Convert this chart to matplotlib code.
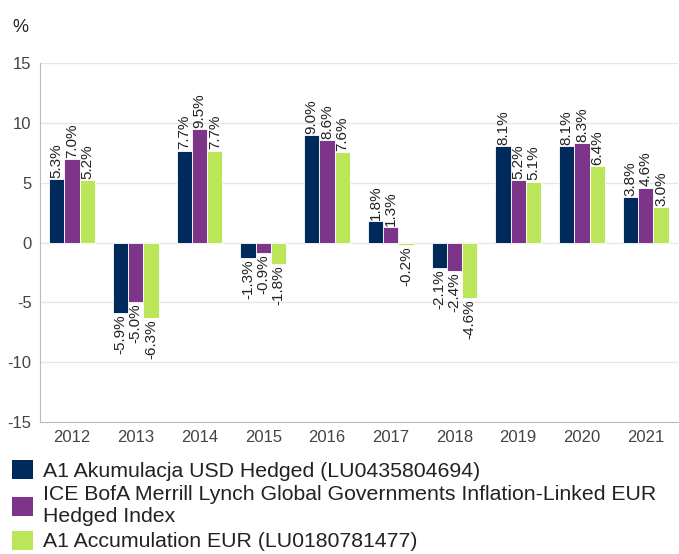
import matplotlib
matplotlib.use('Agg')
import matplotlib.pyplot as plt
import numpy as np
from matplotlib.patches import Patch

plt.rcParams['font.family'] = ['Liberation Sans', 'DejaVu Sans']
plt.rcParams['axes.unicode_minus'] = False

years = ['2012', '2013', '2014', '2015', '2016', '2017', '2018', '2019', '2020', '2021']
fund_usd = [5.3, -5.9, 7.7, -1.3, 9.0, 1.8, -2.1, 8.1, 8.1, 3.8]
index_eur = [7.0, -5.0, 9.5, -0.9, 8.6, 1.3, -2.4, 5.2, 8.3, 4.6]
fund_eur = [5.2, -6.3, 7.7, -1.8, 7.6, -0.2, -4.6, 5.1, 6.4, 3.0]
names = ['A1 Akumulacja USD Hedged (LU0435804694)',
         'ICE BofA Merrill Lynch Global Governments Inflation-Linked EUR\nHedged Index',
         'A1 Accumulation EUR (LU0180781477)']
colors = ['#002a5c', '#7d3589', '#bce65a']

fig = plt.figure(figsize=(6.79, 5.54), dpi=100)
ax = fig.add_axes([0.059, 0.238, 0.939, 0.648])

x = np.arange(len(years))
w = 0.24
for k, vals in enumerate([fund_usd, index_eur, fund_eur]):
    pos = x + (k - 1) * w
    ax.bar(pos, vals, w, color=colors[k], edgecolor='white', linewidth=0.6, zorder=3)
    for xi, v in zip(pos, vals):
        if v >= 0:
            ax.text(xi, v + 0.1, '%.1f%%' % v, rotation=90, ha='center', va='bottom',
                    fontsize=11, color='#222222', zorder=4)
        else:
            ax.text(xi, v - 0.1, '%.1f%%' % v, rotation=90, ha='center', va='top',
                    fontsize=11, color='#222222', zorder=4)

ax.set_xlim(-0.5, len(years) - 0.5)
ax.set_ylim(-15, 15)
ax.set_yticks([-15, -10, -5, 0, 5, 10, 15])
ax.set_xticks(x)
ax.set_xticklabels(years)
ax.yaxis.grid(True, color='#e6e6e6', linewidth=1, zorder=0)
for s in ['top', 'right']:
    ax.spines[s].set_visible(False)
for s in ['left', 'bottom']:
    ax.spines[s].set_color('#bbbbbb')
ax.tick_params(axis='both', length=0, labelsize=12, colors='#444444', pad=6)

fig.text(0.018, 0.965, '%', fontsize=13, color='#222222', va='top')

handles = [Patch(facecolor=c, edgecolor='none') for c in colors]
fig.legend(handles, names, loc='upper left', bbox_to_anchor=(0.018, 0.169), frameon=False,
           fontsize=15.3, handlelength=1.0, handleheight=1.0, handletextpad=0.45,
           labelspacing=0.2, borderaxespad=0, borderpad=0, labelcolor='#222222')

plt.savefig('out.png', dpi=100)
